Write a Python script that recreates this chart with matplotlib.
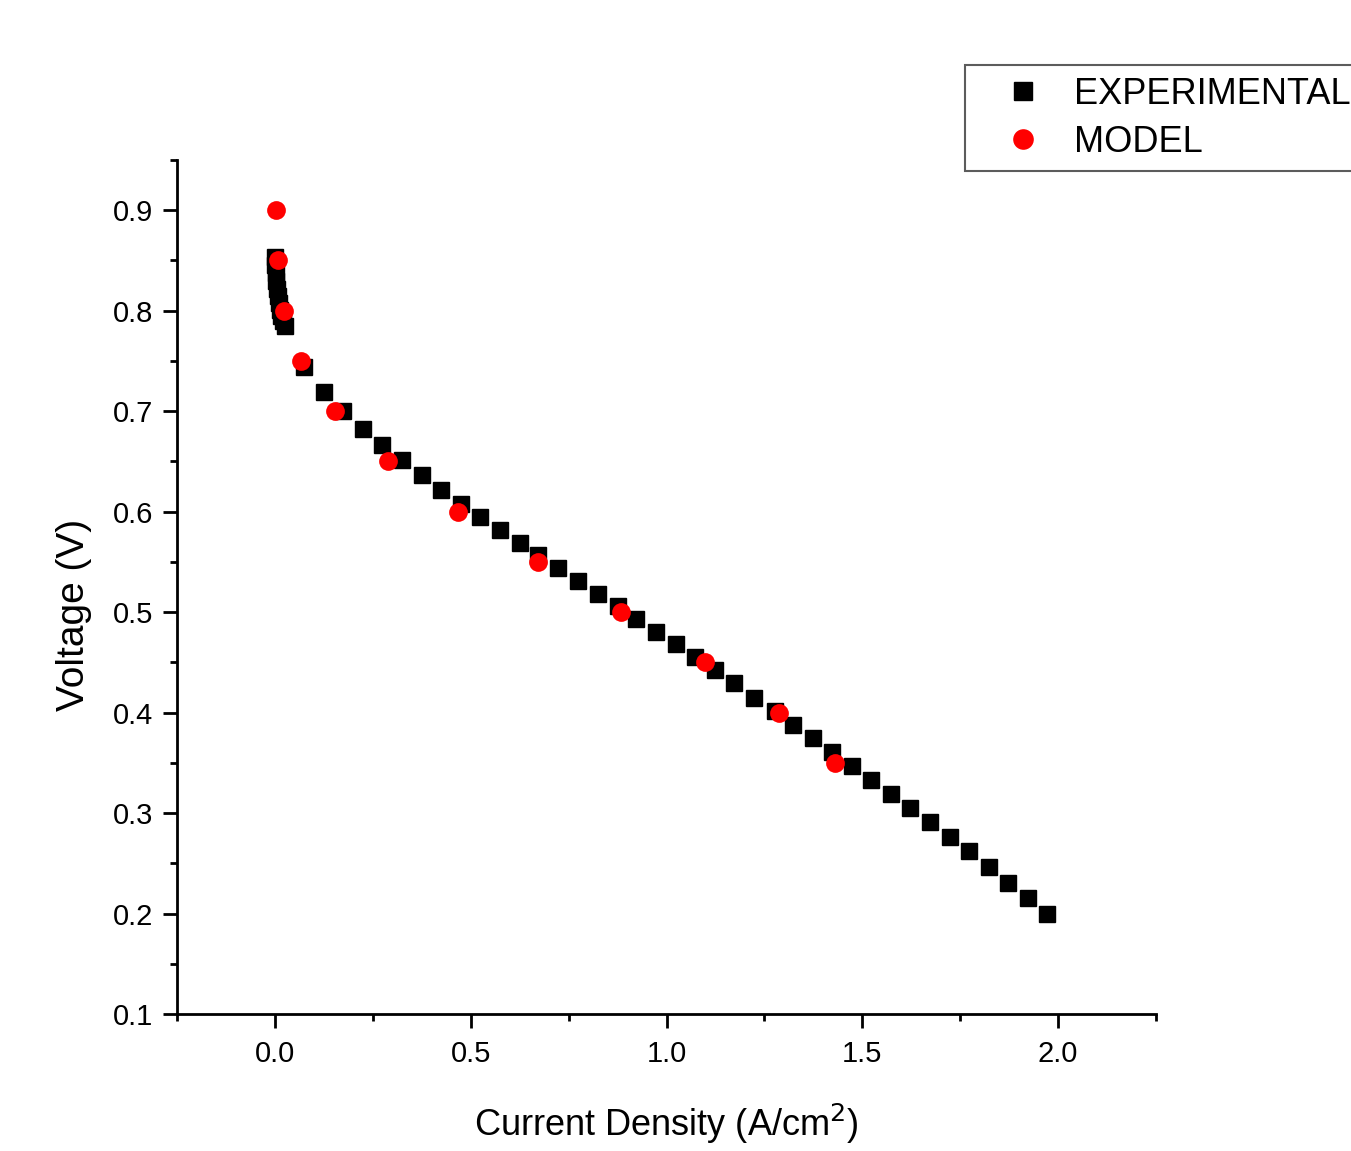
import matplotlib
matplotlib.use("Agg")
import matplotlib.pyplot as plt
from matplotlib.ticker import MultipleLocator, FormatStrFormatter

plt.rcParams['font.family'] = ['Liberation Sans', 'DejaVu Sans']

# experimental polarization curve (A/cm^2, V)
exp_current = [0.000, 0.001, 0.002, 0.004, 0.006, 0.008, 0.010, 0.013, 0.016, 0.020, 0.025,
               0.074, 0.125, 0.173, 0.224, 0.273, 0.324, 0.375, 0.423, 0.474, 0.523,
               0.574, 0.625, 0.673, 0.724, 0.773, 0.824, 0.875, 0.923, 0.974, 1.023,
               1.074, 1.125, 1.173, 1.224, 1.276, 1.324, 1.375, 1.423, 1.474, 1.523,
               1.574, 1.622, 1.673, 1.724, 1.773, 1.824, 1.872, 1.923, 1.972]
exp_voltage = [0.853, 0.845, 0.838, 0.830, 0.822, 0.815, 0.808, 0.801, 0.795, 0.790, 0.785,
               0.744, 0.719, 0.700, 0.682, 0.666, 0.651, 0.636, 0.622, 0.608, 0.595,
               0.582, 0.569, 0.557, 0.544, 0.531, 0.518, 0.506, 0.493, 0.480, 0.468,
               0.455, 0.442, 0.429, 0.415, 0.402, 0.388, 0.375, 0.361, 0.347, 0.333,
               0.319, 0.305, 0.291, 0.276, 0.262, 0.246, 0.230, 0.215, 0.200]

# model prediction
model_current = [0.003, 0.008, 0.023, 0.066, 0.153, 0.288, 0.467, 0.671, 0.885, 1.099, 1.288, 1.431]
model_voltage = [0.90, 0.85, 0.80, 0.75, 0.70, 0.65, 0.60, 0.55, 0.50, 0.45, 0.40, 0.35]

fig = plt.figure(figsize=(13.51, 11.51), dpi=100)
ax = fig.add_axes([0.131, 0.119, 0.7247, 0.742])

ax.plot(exp_current, exp_voltage, 's', color='black', markersize=11.5, label='EXPERIMENTAL', zorder=2)
ax.plot(model_current, model_voltage, 'o', color='red', markersize=13.5, markeredgewidth=0,
        label='MODEL', zorder=3)

ax.set_xlim(-0.25, 2.25)
ax.set_ylim(0.1, 0.95)
ax.xaxis.set_major_locator(MultipleLocator(0.5))
ax.xaxis.set_minor_locator(MultipleLocator(0.25))
ax.yaxis.set_major_locator(MultipleLocator(0.1))
ax.yaxis.set_minor_locator(MultipleLocator(0.05))
ax.xaxis.set_major_formatter(FormatStrFormatter('%.1f'))
ax.yaxis.set_major_formatter(FormatStrFormatter('%.1f'))

for side in ['top', 'right']:
    ax.spines[side].set_visible(False)
for side in ['left', 'bottom']:
    ax.spines[side].set_linewidth(2)

ax.tick_params(which='major', direction='out', length=10, width=2, labelsize=21, pad=7)
ax.tick_params(which='minor', direction='out', length=5, width=2)
ax.tick_params(axis='x', which='major', pad=9)

ax.set_xlabel('Current Density (A/cm$^2$)', fontsize=26, labelpad=24)
ax.set_ylabel('Voltage (V)', fontsize=28)
ax.yaxis.set_label_coords(-0.087, 0.467)

leg = fig.legend(loc='upper left', bbox_to_anchor=(965 / 1351, 1 - 65 / 1151), borderaxespad=0,
                 fontsize=26, frameon=True, fancybox=False, edgecolor='#333333',
                 handletextpad=0.15, labelspacing=0.36, borderpad=0.32, handlelength=2.55,
                 markerscale=1.1)
leg.get_frame().set_linewidth(1.5)

fig.savefig('out.png', dpi=100)
